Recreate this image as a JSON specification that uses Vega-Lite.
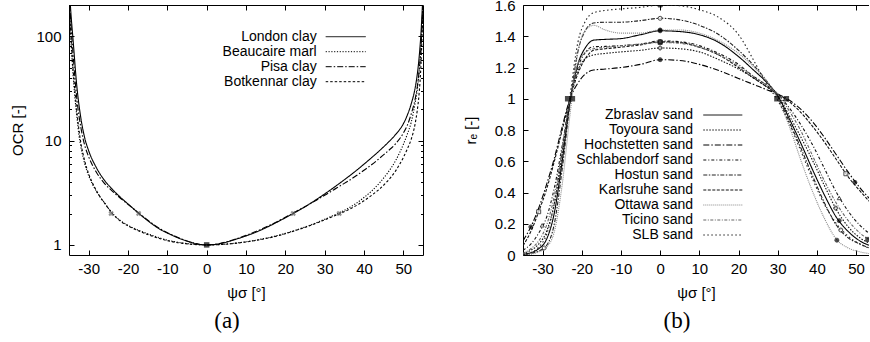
{
  "$schema": "https://vega.github.io/schema/vega-lite/v6.json",
  "background": "white",
  "padding": {"left": 10, "top": -2, "right": 0, "bottom": 0},
  "bounds": "flush",
  "spacing": 100,
  "config": {
    "view": {"stroke": null},
    "font": "Liberation Sans",
    "axis": {
      "grid": false,
      "labelFont": "Liberation Sans",
      "titleFont": "Liberation Sans",
      "labelFontSize": 15,
      "titleFontSize": 15,
      "titleFontWeight": "normal",
      "labelColor": "black",
      "titleColor": "black",
      "domainColor": "black",
      "tickColor": "black",
      "domainWidth": 1,
      "tickWidth": 1
    },
    "legend": {
      "padding": 0,
      "labelFont": "Liberation Sans",
      "labelColor": "black",
      "labelLimit": 400
    }
  },
  "hconcat": [
    {
      "width": 354,
      "height": 250,
      "title": {"text": "(a)", "orient": "bottom", "font": "Liberation Serif", "fontSize": 23, "fontWeight": "normal", "color": "black", "offset": 10, "dx": -19},
      "resolve": {"axis": {"x": "independent", "y": "independent"}},
      "layer": [
        {
          "mark": {"type": "rule", "color": "#666", "strokeWidth": 1.2},
          "encoding": {
            "x": {"datum": 0, "type": "quantitative", "axis": {"orient": "top", "values": [-30, -20, -10, 0, 10, 20, 30, 40, 50], "tickSize": -5, "labels": false, "title": null}}
          }
        },
        {
          "mark": {"type": "rule", "color": "#444", "strokeWidth": 1, "strokeDash": [3, 2]},
          "encoding": {
            "y": {"datum": 2, "type": "quantitative", "axis": {"orient": "right", "values": [1, 10, 100], "tickSize": -5, "labels": false, "title": null}}
          }
        },
        {
          "data": {"values": [
            {"c":"London clay","x":-35,"y":330},{"c":"London clay","x":-34.5,"y":164},{"c":"London clay","x":-34,"y":96},{"c":"London clay","x":-33,"y":33},{"c":"London clay","x":-32,"y":16.6},{"c":"London clay","x":-31,"y":10.6},{"c":"London clay","x":-30,"y":8.0},{"c":"London clay","x":-28,"y":5.47},{"c":"London clay","x":-26,"y":4.17},{"c":"London clay","x":-24,"y":3.42},{"c":"London clay","x":-22,"y":2.88},{"c":"London clay","x":-20,"y":2.47},{"c":"London clay","x":-18,"y":2.12},{"c":"London clay","x":-16,"y":1.83},{"c":"London clay","x":-14,"y":1.6},{"c":"London clay","x":-12,"y":1.42},{"c":"London clay","x":-10,"y":1.3},{"c":"London clay","x":-8,"y":1.2},{"c":"London clay","x":-6,"y":1.12},{"c":"London clay","x":-4,"y":1.06},{"c":"London clay","x":-2,"y":1.015},{"c":"London clay","x":0,"y":1},{"c":"London clay","x":2,"y":1.01},{"c":"London clay","x":4,"y":1.04},{"c":"London clay","x":6,"y":1.09},{"c":"London clay","x":8,"y":1.15},{"c":"London clay","x":10,"y":1.22},{"c":"London clay","x":12,"y":1.3},{"c":"London clay","x":14,"y":1.4},{"c":"London clay","x":16,"y":1.52},{"c":"London clay","x":18,"y":1.66},{"c":"London clay","x":20,"y":1.82},{"c":"London clay","x":22,"y":2.0},{"c":"London clay","x":24,"y":2.21},{"c":"London clay","x":26,"y":2.45},{"c":"London clay","x":28,"y":2.74},{"c":"London clay","x":30,"y":3.08},{"c":"London clay","x":32,"y":3.48},{"c":"London clay","x":34,"y":3.95},{"c":"London clay","x":36,"y":4.5},{"c":"London clay","x":38,"y":5.15},{"c":"London clay","x":40,"y":5.95},{"c":"London clay","x":42,"y":6.9},{"c":"London clay","x":44,"y":8.05},{"c":"London clay","x":46,"y":9.5},{"c":"London clay","x":48,"y":11.4},{"c":"London clay","x":50,"y":14.5},{"c":"London clay","x":51,"y":17.5},{"c":"London clay","x":52,"y":22.5},{"c":"London clay","x":53,"y":32},{"c":"London clay","x":53.5,"y":42},{"c":"London clay","x":54,"y":62},{"c":"London clay","x":54.5,"y":110},{"c":"London clay","x":55,"y":260},
            {"c":"Beaucaire marl","x":-35,"y":200},{"c":"Beaucaire marl","x":-34.5,"y":90},{"c":"Beaucaire marl","x":-34,"y":45},{"c":"Beaucaire marl","x":-33.5,"y":26},{"c":"Beaucaire marl","x":-33,"y":17},{"c":"Beaucaire marl","x":-32.5,"y":11.5},{"c":"Beaucaire marl","x":-32,"y":8.8},{"c":"Beaucaire marl","x":-31,"y":6.0},{"c":"Beaucaire marl","x":-30,"y":4.6},{"c":"Beaucaire marl","x":-29,"y":3.8},{"c":"Beaucaire marl","x":-28,"y":3.25},{"c":"Beaucaire marl","x":-27,"y":2.85},{"c":"Beaucaire marl","x":-26,"y":2.55},{"c":"Beaucaire marl","x":-25,"y":2.25},{"c":"Beaucaire marl","x":-24,"y":2.02},{"c":"Beaucaire marl","x":-22,"y":1.72},{"c":"Beaucaire marl","x":-20,"y":1.54},{"c":"Beaucaire marl","x":-18,"y":1.42},{"c":"Beaucaire marl","x":-16,"y":1.32},{"c":"Beaucaire marl","x":-14,"y":1.24},{"c":"Beaucaire marl","x":-12,"y":1.17},{"c":"Beaucaire marl","x":-10,"y":1.11},{"c":"Beaucaire marl","x":-8,"y":1.07},{"c":"Beaucaire marl","x":-6,"y":1.04},{"c":"Beaucaire marl","x":-4,"y":1.02},{"c":"Beaucaire marl","x":-2,"y":1.005},{"c":"Beaucaire marl","x":0,"y":1},{"c":"Beaucaire marl","x":2,"y":1.003},{"c":"Beaucaire marl","x":4,"y":1.012},{"c":"Beaucaire marl","x":6,"y":1.027},{"c":"Beaucaire marl","x":8,"y":1.047},{"c":"Beaucaire marl","x":10,"y":1.072},{"c":"Beaucaire marl","x":12,"y":1.1},{"c":"Beaucaire marl","x":14,"y":1.14},{"c":"Beaucaire marl","x":16,"y":1.18},{"c":"Beaucaire marl","x":18,"y":1.23},{"c":"Beaucaire marl","x":20,"y":1.29},{"c":"Beaucaire marl","x":22,"y":1.36},{"c":"Beaucaire marl","x":24,"y":1.44},{"c":"Beaucaire marl","x":26,"y":1.53},{"c":"Beaucaire marl","x":28,"y":1.64},{"c":"Beaucaire marl","x":30,"y":1.76},{"c":"Beaucaire marl","x":32,"y":1.9},{"c":"Beaucaire marl","x":34,"y":2.05},{"c":"Beaucaire marl","x":36,"y":2.25},{"c":"Beaucaire marl","x":38,"y":2.5},{"c":"Beaucaire marl","x":40,"y":2.85},{"c":"Beaucaire marl","x":42,"y":3.3},{"c":"Beaucaire marl","x":44,"y":3.95},{"c":"Beaucaire marl","x":46,"y":4.9},{"c":"Beaucaire marl","x":48,"y":6.4},{"c":"Beaucaire marl","x":50,"y":9.2},{"c":"Beaucaire marl","x":51,"y":11.5},{"c":"Beaucaire marl","x":52,"y":15},{"c":"Beaucaire marl","x":53,"y":23},{"c":"Beaucaire marl","x":53.5,"y":30},{"c":"Beaucaire marl","x":54,"y":45},{"c":"Beaucaire marl","x":54.5,"y":80},{"c":"Beaucaire marl","x":55,"y":200},
            {"c":"Pisa clay","x":-35,"y":280},{"c":"Pisa clay","x":-34.5,"y":130},{"c":"Pisa clay","x":-34,"y":70},{"c":"Pisa clay","x":-33,"y":25},{"c":"Pisa clay","x":-32,"y":13.5},{"c":"Pisa clay","x":-31,"y":9.0},{"c":"Pisa clay","x":-30,"y":7.0},{"c":"Pisa clay","x":-28,"y":4.95},{"c":"Pisa clay","x":-26,"y":3.9},{"c":"Pisa clay","x":-24,"y":3.28},{"c":"Pisa clay","x":-22,"y":2.82},{"c":"Pisa clay","x":-20,"y":2.45},{"c":"Pisa clay","x":-18,"y":2.13},{"c":"Pisa clay","x":-16,"y":1.85},{"c":"Pisa clay","x":-14,"y":1.62},{"c":"Pisa clay","x":-12,"y":1.44},{"c":"Pisa clay","x":-10,"y":1.31},{"c":"Pisa clay","x":-8,"y":1.21},{"c":"Pisa clay","x":-6,"y":1.125},{"c":"Pisa clay","x":-4,"y":1.06},{"c":"Pisa clay","x":-2,"y":1.015},{"c":"Pisa clay","x":0,"y":1},{"c":"Pisa clay","x":2,"y":1.012},{"c":"Pisa clay","x":4,"y":1.045},{"c":"Pisa clay","x":6,"y":1.095},{"c":"Pisa clay","x":8,"y":1.16},{"c":"Pisa clay","x":10,"y":1.235},{"c":"Pisa clay","x":12,"y":1.32},{"c":"Pisa clay","x":14,"y":1.42},{"c":"Pisa clay","x":16,"y":1.54},{"c":"Pisa clay","x":18,"y":1.68},{"c":"Pisa clay","x":20,"y":1.84},{"c":"Pisa clay","x":22,"y":2.02},{"c":"Pisa clay","x":24,"y":2.22},{"c":"Pisa clay","x":26,"y":2.44},{"c":"Pisa clay","x":28,"y":2.7},{"c":"Pisa clay","x":30,"y":3.0},{"c":"Pisa clay","x":32,"y":3.32},{"c":"Pisa clay","x":34,"y":3.7},{"c":"Pisa clay","x":36,"y":4.1},{"c":"Pisa clay","x":38,"y":4.6},{"c":"Pisa clay","x":40,"y":5.2},{"c":"Pisa clay","x":42,"y":5.9},{"c":"Pisa clay","x":44,"y":6.8},{"c":"Pisa clay","x":46,"y":7.9},{"c":"Pisa clay","x":48,"y":9.3},{"c":"Pisa clay","x":50,"y":11.8},{"c":"Pisa clay","x":51,"y":14},{"c":"Pisa clay","x":52,"y":18},{"c":"Pisa clay","x":53,"y":25},{"c":"Pisa clay","x":53.5,"y":32},{"c":"Pisa clay","x":54,"y":46},{"c":"Pisa clay","x":54.5,"y":80},{"c":"Pisa clay","x":55,"y":220},
            {"c":"Botkennar clay","x":-35,"y":220},{"c":"Botkennar clay","x":-34.5,"y":100},{"c":"Botkennar clay","x":-34,"y":50},{"c":"Botkennar clay","x":-33.5,"y":30},{"c":"Botkennar clay","x":-33,"y":19},{"c":"Botkennar clay","x":-32.5,"y":13},{"c":"Botkennar clay","x":-32,"y":9.6},{"c":"Botkennar clay","x":-31,"y":6.4},{"c":"Botkennar clay","x":-30,"y":4.8},{"c":"Botkennar clay","x":-29,"y":3.9},{"c":"Botkennar clay","x":-28,"y":3.3},{"c":"Botkennar clay","x":-27,"y":2.85},{"c":"Botkennar clay","x":-26,"y":2.52},{"c":"Botkennar clay","x":-25,"y":2.24},{"c":"Botkennar clay","x":-24,"y":2.0},{"c":"Botkennar clay","x":-22,"y":1.7},{"c":"Botkennar clay","x":-20,"y":1.52},{"c":"Botkennar clay","x":-18,"y":1.4},{"c":"Botkennar clay","x":-16,"y":1.3},{"c":"Botkennar clay","x":-14,"y":1.22},{"c":"Botkennar clay","x":-12,"y":1.15},{"c":"Botkennar clay","x":-10,"y":1.1},{"c":"Botkennar clay","x":-8,"y":1.06},{"c":"Botkennar clay","x":-6,"y":1.035},{"c":"Botkennar clay","x":-4,"y":1.015},{"c":"Botkennar clay","x":-2,"y":1.004},{"c":"Botkennar clay","x":0,"y":1},{"c":"Botkennar clay","x":2,"y":1.002},{"c":"Botkennar clay","x":4,"y":1.01},{"c":"Botkennar clay","x":6,"y":1.024},{"c":"Botkennar clay","x":8,"y":1.043},{"c":"Botkennar clay","x":10,"y":1.067},{"c":"Botkennar clay","x":12,"y":1.095},{"c":"Botkennar clay","x":14,"y":1.13},{"c":"Botkennar clay","x":16,"y":1.17},{"c":"Botkennar clay","x":18,"y":1.22},{"c":"Botkennar clay","x":20,"y":1.28},{"c":"Botkennar clay","x":22,"y":1.35},{"c":"Botkennar clay","x":24,"y":1.43},{"c":"Botkennar clay","x":26,"y":1.52},{"c":"Botkennar clay","x":28,"y":1.62},{"c":"Botkennar clay","x":30,"y":1.74},{"c":"Botkennar clay","x":32,"y":1.87},{"c":"Botkennar clay","x":34,"y":2.0},{"c":"Botkennar clay","x":36,"y":2.17},{"c":"Botkennar clay","x":38,"y":2.38},{"c":"Botkennar clay","x":40,"y":2.65},{"c":"Botkennar clay","x":42,"y":3.0},{"c":"Botkennar clay","x":44,"y":3.45},{"c":"Botkennar clay","x":46,"y":4.1},{"c":"Botkennar clay","x":48,"y":5.1},{"c":"Botkennar clay","x":50,"y":6.9},{"c":"Botkennar clay","x":51,"y":8.3},{"c":"Botkennar clay","x":52,"y":10.3},{"c":"Botkennar clay","x":53,"y":14.5},{"c":"Botkennar clay","x":53.5,"y":19},{"c":"Botkennar clay","x":54,"y":28},{"c":"Botkennar clay","x":54.5,"y":55},{"c":"Botkennar clay","x":55,"y":200}
          ]},
          "mark": {"type": "line", "strokeWidth": 1.1, "clip": true, "interpolate": "monotone", "color": "black"},
          "encoding": {
            "x": {"field": "x", "type": "quantitative", "scale": {"domain": [-35, 55], "nice": false, "zero": false},
              "axis": {"orient": "bottom", "values": [-30, -20, -10, 0, 10, 20, 30, 40, 50], "tickSize": -5, "labelPadding": 11, "labelExpr": "'' + datum.value", "title": "ψσ [°]", "titlePadding": 9}},
            "y": {"field": "y", "type": "quantitative", "scale": {"type": "log", "domain": [0.8, 200], "nice": false},
              "axis": {"orient": "left", "values": [1, 10, 100], "tickSize": -5, "labelPadding": 13, "labelExpr": "'' + datum.value", "title": "OCR [-]", "titlePadding": 10}},
            "strokeDash": {"field": "c", "type": "nominal",
              "scale": {"domain": ["London clay", "Beaucaire marl", "Pisa clay", "Botkennar clay", "Zbraslav sand", "Toyoura sand", "Hochstetten sand", "Schlabendorf sand", "Hostun sand", "Karlsruhe sand", "Ottawa sand", "Ticino sand", "SLB sand"],
                "range": [[1, 0], [1.2, 1.6], [6, 2, 1.5, 2], [2.5, 2], [1, 0], [1.5, 1.5], [6, 2, 1.5, 2], [3, 2, 1, 2], [4, 1.5, 1.5, 1.5], [3, 1.5], [1, 1], [3, 1.5, 1, 1.5], [1.5, 2.5]]},
              "legend": {"values": ["London clay", "Beaucaire marl", "Pisa clay", "Botkennar clay"], "orient": "none", "legendX": 240, "legendY": 24.7, "title": null, "symbolType": "M-4,0H4", "symbolSize": 100, "symbolStrokeWidth": 1, "symbolStrokeColor": "black", "symbolFillColor": "transparent", "rowPadding": 1, "labelAlign": "right", "labelOffset": -36, "symbolOffset": 29.7, "labelFontSize": 14}}
          }
        },
        {
          "data": {"values": [{"x": 0, "y": 1}]},
          "mark": {"type": "square", "size": 30, "color": "black", "filled": true},
          "encoding": {
            "x": {"field": "x", "type": "quantitative", "axis": null},
            "y": {"field": "y", "type": "quantitative", "axis": {"orient": "left", "values": [2, 3, 4, 5, 6, 7, 8, 9, 20, 30, 40, 50, 60, 70, 80, 90], "tickSize": -2.5, "labels": false, "domain": false, "title": null}}
          }
        },
        {
          "data": {"values": [{"x": -24.3, "y": 2}, {"x": -17.3, "y": 2}, {"x": 22, "y": 2}, {"x": 33.7, "y": 2}]},
          "mark": {"type": "point", "shape": "cross", "angle": 45, "size": 30, "color": "#666", "strokeWidth": 1, "filled": true},
          "encoding": {
            "x": {"field": "x", "type": "quantitative", "axis": null},
            "y": {"field": "y", "type": "quantitative", "axis": {"orient": "right", "values": [2, 3, 4, 5, 6, 7, 8, 9, 20, 30, 40, 50, 60, 70, 80, 90], "tickSize": -2.5, "labels": false, "domain": false, "title": null}}
          }
        }
      ]
    },
    {
      "width": 346,
      "height": 250,
      "title": {"text": "(b)", "orient": "bottom", "font": "Liberation Serif", "fontSize": 23, "fontWeight": "normal", "color": "black", "offset": 10, "dx": -19},
      "resolve": {"axis": {"x": "independent", "y": "independent"}},
      "layer": [
        {
          "mark": {"type": "rule", "color": "#666", "strokeWidth": 1.2},
          "encoding": {
            "x": {"datum": 0, "type": "quantitative", "axis": {"orient": "top", "values": [-30, -20, -10, 0, 10, 20, 30, 40, 50], "tickSize": -5, "labels": false, "title": null}}
          }
        },
        {
          "mark": {"type": "rule", "color": "#444", "strokeWidth": 1, "strokeDash": [3, 2]},
          "encoding": {
            "y": {"datum": 1, "type": "quantitative", "axis": null}
          }
        },
        {
          "data": {"values": [
            {"c":"Zbraslav sand","x":-35,"y":0.005},{"c":"Zbraslav sand","x":-33,"y":0.015},{"c":"Zbraslav sand","x":-31,"y":0.04},{"c":"Zbraslav sand","x":-29,"y":0.1},{"c":"Zbraslav sand","x":-27,"y":0.27},{"c":"Zbraslav sand","x":-25,"y":0.6},{"c":"Zbraslav sand","x":-23,"y":0.98},{"c":"Zbraslav sand","x":-21,"y":1.22},{"c":"Zbraslav sand","x":-19,"y":1.33},{"c":"Zbraslav sand","x":-17,"y":1.375},{"c":"Zbraslav sand","x":-14,"y":1.38},{"c":"Zbraslav sand","x":-10,"y":1.385},{"c":"Zbraslav sand","x":-5,"y":1.41},{"c":"Zbraslav sand","x":0,"y":1.435},{"c":"Zbraslav sand","x":5,"y":1.43},{"c":"Zbraslav sand","x":10,"y":1.41},{"c":"Zbraslav sand","x":15,"y":1.36},{"c":"Zbraslav sand","x":20,"y":1.27},{"c":"Zbraslav sand","x":24,"y":1.18},{"c":"Zbraslav sand","x":27,"y":1.11},{"c":"Zbraslav sand","x":30,"y":1.02},{"c":"Zbraslav sand","x":33,"y":0.87},{"c":"Zbraslav sand","x":36,"y":0.71},{"c":"Zbraslav sand","x":39,"y":0.54},{"c":"Zbraslav sand","x":42,"y":0.38},{"c":"Zbraslav sand","x":45,"y":0.24},{"c":"Zbraslav sand","x":48,"y":0.15},{"c":"Zbraslav sand","x":51,"y":0.09},{"c":"Zbraslav sand","x":55,"y":0.05},
            {"c":"Toyoura sand","x":-35,"y":0.01},{"c":"Toyoura sand","x":-33,"y":0.03},{"c":"Toyoura sand","x":-31,"y":0.07},{"c":"Toyoura sand","x":-29,"y":0.15},{"c":"Toyoura sand","x":-27,"y":0.33},{"c":"Toyoura sand","x":-25,"y":0.64},{"c":"Toyoura sand","x":-23,"y":0.99},{"c":"Toyoura sand","x":-21,"y":1.18},{"c":"Toyoura sand","x":-19,"y":1.26},{"c":"Toyoura sand","x":-17,"y":1.28},{"c":"Toyoura sand","x":-14,"y":1.29},{"c":"Toyoura sand","x":-10,"y":1.3},{"c":"Toyoura sand","x":-5,"y":1.31},{"c":"Toyoura sand","x":0,"y":1.325},{"c":"Toyoura sand","x":5,"y":1.32},{"c":"Toyoura sand","x":10,"y":1.3},{"c":"Toyoura sand","x":15,"y":1.25},{"c":"Toyoura sand","x":20,"y":1.19},{"c":"Toyoura sand","x":24,"y":1.13},{"c":"Toyoura sand","x":27,"y":1.08},{"c":"Toyoura sand","x":30,"y":1.02},{"c":"Toyoura sand","x":33,"y":0.89},{"c":"Toyoura sand","x":36,"y":0.75},{"c":"Toyoura sand","x":39,"y":0.6},{"c":"Toyoura sand","x":42,"y":0.44},{"c":"Toyoura sand","x":45,"y":0.29},{"c":"Toyoura sand","x":48,"y":0.18},{"c":"Toyoura sand","x":51,"y":0.11},{"c":"Toyoura sand","x":55,"y":0.06},
            {"c":"Hochstetten sand","x":-35,"y":0.09},{"c":"Hochstetten sand","x":-33,"y":0.18},{"c":"Hochstetten sand","x":-31,"y":0.3},{"c":"Hochstetten sand","x":-29,"y":0.45},{"c":"Hochstetten sand","x":-27,"y":0.62},{"c":"Hochstetten sand","x":-25,"y":0.82},{"c":"Hochstetten sand","x":-23,"y":1.0},{"c":"Hochstetten sand","x":-21,"y":1.1},{"c":"Hochstetten sand","x":-19,"y":1.16},{"c":"Hochstetten sand","x":-17,"y":1.184},{"c":"Hochstetten sand","x":-14,"y":1.19},{"c":"Hochstetten sand","x":-10,"y":1.2},{"c":"Hochstetten sand","x":-5,"y":1.22},{"c":"Hochstetten sand","x":0,"y":1.25},{"c":"Hochstetten sand","x":5,"y":1.245},{"c":"Hochstetten sand","x":10,"y":1.22},{"c":"Hochstetten sand","x":15,"y":1.18},{"c":"Hochstetten sand","x":20,"y":1.13},{"c":"Hochstetten sand","x":24,"y":1.09},{"c":"Hochstetten sand","x":27,"y":1.06},{"c":"Hochstetten sand","x":30,"y":1.03},{"c":"Hochstetten sand","x":33,"y":0.99},{"c":"Hochstetten sand","x":36,"y":0.93},{"c":"Hochstetten sand","x":39,"y":0.85},{"c":"Hochstetten sand","x":42,"y":0.75},{"c":"Hochstetten sand","x":45,"y":0.64},{"c":"Hochstetten sand","x":48,"y":0.53},{"c":"Hochstetten sand","x":51,"y":0.43},{"c":"Hochstetten sand","x":55,"y":0.32},
            {"c":"Schlabendorf sand","x":-35,"y":0.03},{"c":"Schlabendorf sand","x":-33,"y":0.07},{"c":"Schlabendorf sand","x":-31,"y":0.14},{"c":"Schlabendorf sand","x":-29,"y":0.24},{"c":"Schlabendorf sand","x":-27,"y":0.43},{"c":"Schlabendorf sand","x":-25,"y":0.7},{"c":"Schlabendorf sand","x":-23,"y":1.0},{"c":"Schlabendorf sand","x":-21,"y":1.2},{"c":"Schlabendorf sand","x":-19,"y":1.3},{"c":"Schlabendorf sand","x":-17,"y":1.333},{"c":"Schlabendorf sand","x":-14,"y":1.335},{"c":"Schlabendorf sand","x":-10,"y":1.34},{"c":"Schlabendorf sand","x":-5,"y":1.35},{"c":"Schlabendorf sand","x":0,"y":1.37},{"c":"Schlabendorf sand","x":5,"y":1.365},{"c":"Schlabendorf sand","x":10,"y":1.34},{"c":"Schlabendorf sand","x":15,"y":1.29},{"c":"Schlabendorf sand","x":20,"y":1.22},{"c":"Schlabendorf sand","x":24,"y":1.14},{"c":"Schlabendorf sand","x":27,"y":1.09},{"c":"Schlabendorf sand","x":30,"y":1.03},{"c":"Schlabendorf sand","x":33,"y":0.94},{"c":"Schlabendorf sand","x":36,"y":0.83},{"c":"Schlabendorf sand","x":39,"y":0.7},{"c":"Schlabendorf sand","x":42,"y":0.55},{"c":"Schlabendorf sand","x":45,"y":0.4},{"c":"Schlabendorf sand","x":48,"y":0.28},{"c":"Schlabendorf sand","x":51,"y":0.19},{"c":"Schlabendorf sand","x":55,"y":0.11},
            {"c":"Hostun sand","x":-35,"y":0.0},{"c":"Hostun sand","x":-33,"y":0.01},{"c":"Hostun sand","x":-31,"y":0.025},{"c":"Hostun sand","x":-29,"y":0.06},{"c":"Hostun sand","x":-27,"y":0.2},{"c":"Hostun sand","x":-25,"y":0.55},{"c":"Hostun sand","x":-23,"y":0.97},{"c":"Hostun sand","x":-21,"y":1.3},{"c":"Hostun sand","x":-19,"y":1.44},{"c":"Hostun sand","x":-17,"y":1.485},{"c":"Hostun sand","x":-14,"y":1.49},{"c":"Hostun sand","x":-10,"y":1.49},{"c":"Hostun sand","x":-5,"y":1.5},{"c":"Hostun sand","x":0,"y":1.515},{"c":"Hostun sand","x":5,"y":1.505},{"c":"Hostun sand","x":10,"y":1.47},{"c":"Hostun sand","x":15,"y":1.41},{"c":"Hostun sand","x":20,"y":1.31},{"c":"Hostun sand","x":24,"y":1.21},{"c":"Hostun sand","x":27,"y":1.12},{"c":"Hostun sand","x":30,"y":1.01},{"c":"Hostun sand","x":33,"y":0.85},{"c":"Hostun sand","x":36,"y":0.68},{"c":"Hostun sand","x":39,"y":0.5},{"c":"Hostun sand","x":42,"y":0.33},{"c":"Hostun sand","x":45,"y":0.19},{"c":"Hostun sand","x":48,"y":0.11},{"c":"Hostun sand","x":51,"y":0.07},{"c":"Hostun sand","x":55,"y":0.03},
            {"c":"Karlsruhe sand","x":-35,"y":0.06},{"c":"Karlsruhe sand","x":-33,"y":0.15},{"c":"Karlsruhe sand","x":-31,"y":0.277},{"c":"Karlsruhe sand","x":-29,"y":0.42},{"c":"Karlsruhe sand","x":-27,"y":0.6},{"c":"Karlsruhe sand","x":-25,"y":0.8},{"c":"Karlsruhe sand","x":-23,"y":1.0},{"c":"Karlsruhe sand","x":-21,"y":1.16},{"c":"Karlsruhe sand","x":-19,"y":1.26},{"c":"Karlsruhe sand","x":-17,"y":1.31},{"c":"Karlsruhe sand","x":-14,"y":1.32},{"c":"Karlsruhe sand","x":-10,"y":1.33},{"c":"Karlsruhe sand","x":-5,"y":1.345},{"c":"Karlsruhe sand","x":0,"y":1.365},{"c":"Karlsruhe sand","x":5,"y":1.36},{"c":"Karlsruhe sand","x":10,"y":1.33},{"c":"Karlsruhe sand","x":15,"y":1.28},{"c":"Karlsruhe sand","x":20,"y":1.2},{"c":"Karlsruhe sand","x":24,"y":1.13},{"c":"Karlsruhe sand","x":27,"y":1.08},{"c":"Karlsruhe sand","x":30,"y":1.03},{"c":"Karlsruhe sand","x":33,"y":0.98},{"c":"Karlsruhe sand","x":36,"y":0.91},{"c":"Karlsruhe sand","x":39,"y":0.82},{"c":"Karlsruhe sand","x":42,"y":0.72},{"c":"Karlsruhe sand","x":45,"y":0.61},{"c":"Karlsruhe sand","x":48,"y":0.5},{"c":"Karlsruhe sand","x":51,"y":0.41},{"c":"Karlsruhe sand","x":55,"y":0.3},
            {"c":"Ottawa sand","x":-35,"y":0.0},{"c":"Ottawa sand","x":-33,"y":0.005},{"c":"Ottawa sand","x":-31,"y":0.02},{"c":"Ottawa sand","x":-29,"y":0.05},{"c":"Ottawa sand","x":-27,"y":0.15},{"c":"Ottawa sand","x":-25,"y":0.45},{"c":"Ottawa sand","x":-23,"y":0.9},{"c":"Ottawa sand","x":-21,"y":1.3},{"c":"Ottawa sand","x":-19,"y":1.44},{"c":"Ottawa sand","x":-17,"y":1.47},{"c":"Ottawa sand","x":-14,"y":1.44},{"c":"Ottawa sand","x":-10,"y":1.42},{"c":"Ottawa sand","x":-5,"y":1.42},{"c":"Ottawa sand","x":0,"y":1.44},{"c":"Ottawa sand","x":5,"y":1.44},{"c":"Ottawa sand","x":10,"y":1.42},{"c":"Ottawa sand","x":15,"y":1.37},{"c":"Ottawa sand","x":20,"y":1.29},{"c":"Ottawa sand","x":24,"y":1.2},{"c":"Ottawa sand","x":27,"y":1.12},{"c":"Ottawa sand","x":30,"y":1.0},{"c":"Ottawa sand","x":33,"y":0.82},{"c":"Ottawa sand","x":36,"y":0.6},{"c":"Ottawa sand","x":39,"y":0.4},{"c":"Ottawa sand","x":42,"y":0.23},{"c":"Ottawa sand","x":45,"y":0.1},{"c":"Ottawa sand","x":48,"y":0.045},{"c":"Ottawa sand","x":51,"y":0.02},{"c":"Ottawa sand","x":55,"y":0.005},
            {"c":"Ticino sand","x":-35,"y":0.01},{"c":"Ticino sand","x":-33,"y":0.04},{"c":"Ticino sand","x":-31,"y":0.09},{"c":"Ticino sand","x":-29,"y":0.19},{"c":"Ticino sand","x":-27,"y":0.38},{"c":"Ticino sand","x":-25,"y":0.68},{"c":"Ticino sand","x":-23,"y":1.0},{"c":"Ticino sand","x":-21,"y":1.22},{"c":"Ticino sand","x":-19,"y":1.3},{"c":"Ticino sand","x":-17,"y":1.32},{"c":"Ticino sand","x":-14,"y":1.33},{"c":"Ticino sand","x":-10,"y":1.34},{"c":"Ticino sand","x":-5,"y":1.35},{"c":"Ticino sand","x":0,"y":1.36},{"c":"Ticino sand","x":5,"y":1.355},{"c":"Ticino sand","x":10,"y":1.33},{"c":"Ticino sand","x":15,"y":1.28},{"c":"Ticino sand","x":20,"y":1.21},{"c":"Ticino sand","x":24,"y":1.14},{"c":"Ticino sand","x":27,"y":1.09},{"c":"Ticino sand","x":30,"y":1.03},{"c":"Ticino sand","x":33,"y":0.92},{"c":"Ticino sand","x":36,"y":0.79},{"c":"Ticino sand","x":39,"y":0.63},{"c":"Ticino sand","x":42,"y":0.47},{"c":"Ticino sand","x":45,"y":0.33},{"c":"Ticino sand","x":48,"y":0.22},{"c":"Ticino sand","x":51,"y":0.14},{"c":"Ticino sand","x":55,"y":0.08},
            {"c":"SLB sand","x":-35,"y":0.0},{"c":"SLB sand","x":-33,"y":0.015},{"c":"SLB sand","x":-31,"y":0.05},{"c":"SLB sand","x":-29,"y":0.13},{"c":"SLB sand","x":-27,"y":0.33},{"c":"SLB sand","x":-25,"y":0.66},{"c":"SLB sand","x":-23,"y":1.02},{"c":"SLB sand","x":-21,"y":1.36},{"c":"SLB sand","x":-19,"y":1.5},{"c":"SLB sand","x":-17,"y":1.55},{"c":"SLB sand","x":-14,"y":1.565},{"c":"SLB sand","x":-10,"y":1.575},{"c":"SLB sand","x":-5,"y":1.585},{"c":"SLB sand","x":0,"y":1.6},{"c":"SLB sand","x":5,"y":1.595},{"c":"SLB sand","x":10,"y":1.57},{"c":"SLB sand","x":15,"y":1.52},{"c":"SLB sand","x":20,"y":1.41},{"c":"SLB sand","x":24,"y":1.24},{"c":"SLB sand","x":27,"y":1.1},{"c":"SLB sand","x":30,"y":0.99},{"c":"SLB sand","x":33,"y":0.84},{"c":"SLB sand","x":36,"y":0.66},{"c":"SLB sand","x":39,"y":0.48},{"c":"SLB sand","x":42,"y":0.32},{"c":"SLB sand","x":45,"y":0.2},{"c":"SLB sand","x":48,"y":0.12},{"c":"SLB sand","x":51,"y":0.07},{"c":"SLB sand","x":55,"y":0.03}
          ]},
          "mark": {"type": "line", "strokeWidth": 1.1, "clip": true, "interpolate": "monotone"},
          "encoding": {
            "x": {"field": "x", "type": "quantitative", "scale": {"domain": [-35, 53.3], "nice": false, "zero": false},
              "axis": {"orient": "bottom", "values": [-30, -20, -10, 0, 10, 20, 30, 40, 50], "tickSize": -5, "labelPadding": 11, "labelExpr": "'' + datum.value", "title": "ψσ [°]", "titlePadding": 9}},
            "y": {"field": "y", "type": "quantitative", "scale": {"domain": [0, 1.6], "nice": false},
              "axis": {"orient": "left", "values": [0, 0.2, 0.4, 0.6, 0.8, 1, 1.2, 1.4, 1.6], "tickSize": -5, "labelPadding": 13, "labelExpr": "'' + datum.value", "title": "rₑ [-]", "titlePadding": 16}},
            "strokeDash": {"field": "c", "type": "nominal", "legend": null,
              "scale": {"domain": ["London clay", "Beaucaire marl", "Pisa clay", "Botkennar clay", "Zbraslav sand", "Toyoura sand", "Hochstetten sand", "Schlabendorf sand", "Hostun sand", "Karlsruhe sand", "Ottawa sand", "Ticino sand", "SLB sand"],
                "range": [[1, 0], [1.2, 1.6], [6, 2, 1.5, 2], [2.5, 2], [1, 0], [1.5, 1.5], [6, 2, 1.5, 2], [3, 2, 1, 2], [4, 1.5, 1.5, 1.5], [3, 1.5], [1, 1], [3, 1.5, 1, 1.5], [1.5, 2.5]]}},
            "color": {"field": "c", "type": "nominal",
              "scale": {"domain": ["Zbraslav sand", "Toyoura sand", "Hochstetten sand", "Schlabendorf sand", "Hostun sand", "Karlsruhe sand", "Ottawa sand", "Ticino sand", "SLB sand"],
                "range": ["#000000", "#111111", "#000000", "#111111", "#222222", "#111111", "#888888", "#666666", "#222222"]},
              "legend": {"orient": "none", "legendX": 610, "legendY": 103, "title": null, "symbolType": "M-3.9,0H3.9", "symbolSize": 100, "symbolStrokeWidth": 1, "symbolFillColor": "transparent", "rowPadding": 1, "labelAlign": "right", "labelOffset": -36.8, "symbolOffset": 36.8, "labelFontSize": 14,
                "encode": {"symbols": {"update": {"strokeDash": {"scale": "strokeDash", "field": "value"}}}}}}
          }
        },
        {
          "data": {"values": [{"x": -23.6, "y": 1}, {"x": -22.4, "y": 1}, {"x": 29.8, "y": 1}, {"x": 32.2, "y": 1}]},
          "mark": {"type": "square", "size": 30, "color": "black", "filled": true, "clip": true},
          "encoding": {
            "x": {"field": "x", "type": "quantitative", "axis": null},
            "y": {"field": "y", "type": "quantitative", "axis": null}
          }
        },
        {
          "data": {"values": [
            {"m":"SLB sand","x":0,"y":1.6},{"m":"Hostun sand","x":0,"y":1.515},{"m":"Ottawa sand","x":0,"y":1.44},{"m":"Zbraslav sand","x":0,"y":1.435},{"m":"Schlabendorf sand","x":0,"y":1.37},{"m":"Karlsruhe sand","x":0,"y":1.365},{"m":"Toyoura sand","x":0,"y":1.325},{"m":"Ticino sand","x":0,"y":1.36},{"m":"Hochstetten sand","x":0,"y":1.25},
            {"m":"Karlsruhe sand","x":-31,"y":0.277},{"m":"Karlsruhe sand","x":47.4,"y":0.52},{"m":"Hochstetten sand","x":-33,"y":0.18},{"m":"Hochstetten sand","x":49.7,"y":0.465},{"m":"Schlabendorf sand","x":-30.1,"y":0.19},{"m":"Schlabendorf sand","x":45.7,"y":0.365},{"m":"Toyoura sand","x":44.8,"y":0.3},{"m":"Zbraslav sand","x":45.7,"y":0.22},{"m":"Hostun sand","x":-29.6,"y":0.045},{"m":"Hostun sand","x":46.1,"y":0.16},{"m":"Ottawa sand","x":45.1,"y":0.095},{"m":"Ticino sand","x":53,"y":0.1}
          ]},
          "mark": {"type": "point", "size": 16, "strokeWidth": 1, "stroke": "black", "clip": true},
          "encoding": {
            "x": {"field": "x", "type": "quantitative", "axis": null},
            "y": {"field": "y", "type": "quantitative", "axis": null},
            "shape": {"field": "m", "type": "nominal", "legend": null,
              "scale": {"range": ["circle", "circle", "square", "circle", "square", "triangle-up", "square", "cross", "circle"]}},
            "fill": {"field": "m", "type": "nominal", "legend": null,
              "scale": {"range": ["#000000", "#ffffff", "#ffffff", "#000000", "#000000", "#ffffff", "#000000", "#ffffff", "#000000"]}}
          }
        }
      ]
    }
  ]
}
